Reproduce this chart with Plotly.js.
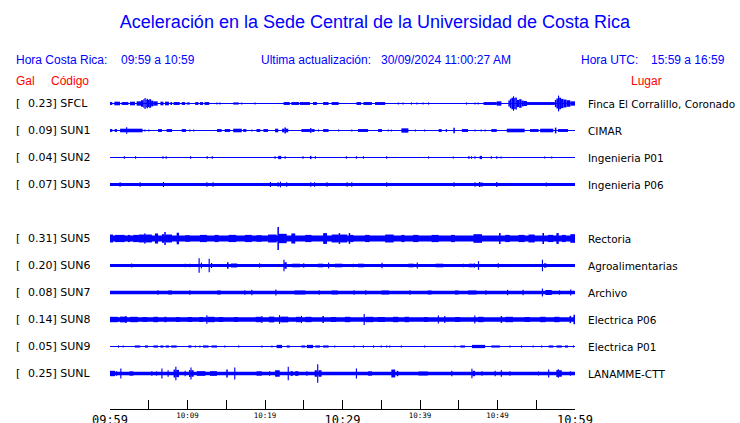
<!DOCTYPE html>
<html><head><meta charset="utf-8">
<script src="https://cdn.plot.ly/plotly-3.0.1.min.js"></script>
<style>html,body{margin:0;padding:0;background:#fff}#chart{width:740px;height:423px}</style>
</head><body><div id="chart"></div>
<script>
// ---- station table ----
const codes  = ['SFCL','SUN1','SUN2','SUN3','SUN5','SUN6','SUN7','SUN8','SUN9','SUNL'];
const peakGal = ['0.23','0.09','0.04','0.07','0.31','0.20','0.08','0.14','0.05','0.25'];
const places = ['Finca El Corralillo, Coronado','CIMAR','Ingenieria P01','Ingenieria P06',
                'Rectoria','Agroalimentarias','Archivo','Electrica P06','Electrica P01','LANAMME-CTT'];
const rowSlot = [0,1,2,3,5,6,7,8,9,10];
// background noise half-amplitude (Gal)
const noiseGal = [0.014,0.014,0.014,0.045,0.08,0.042,0.046,0.06,0.014,0.05];

// ---- envelope segments read from the record: [start min, end min, half-amplitude Gal] ----
// (minutes after 09:59)
const SFCL = [[0,0.3,0.04],[0.56,1.29,0.05],[1.5,2.37,0.04],[2.58,3.23,0.05],[3.44,4.0,0.06],[4.0,4.3,0.09],[4.3,4.45,0.12],[4.45,4.6,0.15],[4.6,4.75,0.11],[4.75,4.9,0.13],[4.9,5.05,0.1],[5.05,5.3,0.12],[5.3,5.59,0.08],[5.59,6.15,0.06],[6.5,6.9,0.05],[7.1,7.6,0.05],[7.8,8.0,0.04],[8.2,9.0,0.04],[9.25,9.7,0.04],[9.9,10.3,0.03],[11.0,11.4,0.04],[11.6,12.0,0.04],[12.2,12.8,0.04],[13.8,13.8,0.03],[14.2,14.2,0.03],[15.9,16.6,0.03],[17.0,17.0,0.03],[18.7,18.7,0.03],[22.4,23.2,0.04],[23.4,24.4,0.04],[24.5,25.8,0.04],[26.2,26.7,0.04],[27.5,28.2,0.04],[28.6,29.5,0.04],[31.8,32.4,0.04],[32.7,33.8,0.04],[34.2,35.5,0.04],[37.2,37.2,0.03],[37.8,37.8,0.03],[38.9,38.9,0.03],[39.6,39.6,0.03],[40.4,40.4,0.03],[41.1,41.1,0.03],[46.0,46.0,0.03],[47.1,47.1,0.03],[47.5,47.5,0.03],[48.2,49.9,0.04],[49.9,50.5,0.06],[51.4,51.6,0.08],[51.6,51.8,0.13],[51.8,52.0,0.16],[52.0,52.15,0.2],[52.15,52.3,0.15],[52.3,52.5,0.17],[52.5,52.8,0.1],[52.8,53.1,0.12],[53.1,53.4,0.08],[53.4,53.8,0.07],[53.8,57.4,0.04],[57.4,57.6,0.1],[57.6,57.8,0.14],[57.8,57.95,0.22],[57.95,58.2,0.16],[58.2,58.5,0.13],[58.5,58.9,0.11],[58.9,59.4,0.09],[59.4,60,0.06]];
const SUN1 = [[0,0.3,0.04],[0.6,0.9,0.04],[1.3,2.1,0.05],[2.1,2.2,0.09],[2.2,4.2,0.05],[4.5,4.5,0.03],[5.0,5.0,0.03],[6.2,6.7,0.04],[7.3,8.0,0.04],[9.25,9.8,0.04],[10.3,10.3,0.03],[10.8,10.8,0.03],[13.8,14.4,0.04],[14.8,15.5,0.04],[15.9,17.0,0.05],[17.2,17.6,0.04],[18.3,18.3,0.03],[18.9,19.4,0.04],[19.8,20.4,0.04],[21.3,21.7,0.05],[22.2,22.5,0.05],[22.5,22.7,0.08],[22.7,23.0,0.05],[24.7,25.8,0.04],[25.8,26.0,0.065],[26.0,26.4,0.04],[26.9,26.9,0.03],[27.5,28.2,0.04],[29.5,29.5,0.03],[31.2,31.2,0.03],[32.0,33.3,0.04],[34.6,35.1,0.04],[35.9,35.9,0.03],[36.3,36.3,0.03],[37.6,38.5,0.06],[39.4,39.4,0.03],[40.6,40.6,0.03],[42.4,42.8,0.04],[43.4,43.4,0.04],[44.3,44.5,0.075],[45.4,46.2,0.04],[47.1,47.1,0.03],[47.9,47.9,0.03],[48.4,48.4,0.03],[49.2,49.9,0.04],[51.2,53.5,0.05],[54.2,55.3,0.04],[55.5,57.2,0.05],[57.4,57.6,0.08],[57.8,59.1,0.04]];
const SUN2 = [[1.85,1.85,0.035],[3.3,3.3,0.035],[6.75,6.9,0.035],[7.2,7.3,0.035],[10.4,10.4,0.035],[12.55,12.55,0.035],[13.2,13.2,0.035],[21.3,21.3,0.035],[21.7,22.1,0.045],[22.6,22.6,0.035],[24.9,24.9,0.035],[25.8,26.0,0.045],[26.5,26.5,0.035],[30.5,30.5,0.035],[31.8,31.8,0.035],[32.7,32.7,0.035],[35.7,35.7,0.035],[41.1,41.1,0.03],[44.3,44.3,0.03],[46.2,46.4,0.035],[46.6,46.7,0.035],[47.1,47.1,0.035],[47.7,48.0,0.045],[49.2,49.2,0.035],[49.9,49.9,0.035],[50.45,50.45,0.03],[56.1,56.1,0.03],[57.0,57.0,0.03]];
const SUN3 = [[1.3,1.3,0.06],[3.9,3.9,0.06],[6.9,6.9,0.07],[12.5,12.5,0.065],[13.3,13.3,0.065],[20.7,20.7,0.07],[21.7,21.7,0.065],[22.0,22.0,0.08],[22.8,22.8,0.065],[25.9,25.9,0.065],[26.4,26.4,0.06],[28.0,28.0,0.06],[30.6,30.6,0.06],[31.2,31.2,0.06],[35.7,35.7,0.065],[44.4,44.4,0.065],[47.1,47.1,0.06],[47.6,47.8,0.07],[48.0,48.0,0.065],[49.9,49.9,0.07],[56.3,56.3,0.055]];
const SUN5 = [[0,0.4,0.11],[0.65,1.9,0.1],[2.3,2.6,0.1],[3.0,3.7,0.1],[3.7,4.4,0.11],[4.4,4.6,0.14],[4.6,5.4,0.11],[5.8,6.2,0.14],[6.7,7.0,0.12],[7.0,7.2,0.18],[7.2,8.0,0.11],[8.6,8.9,0.16],[9.7,10.3,0.09],[11.6,12.5,0.1],[13.5,14.0,0.1],[15.3,16.3,0.1],[17.4,18.3,0.1],[18.9,19.6,0.09],[20.4,21.5,0.11],[21.6,21.8,0.32],[21.8,22.8,0.13],[23.4,23.9,0.14],[25.2,26.0,0.1],[27.5,28.0,0.15],[28.6,29.5,0.11],[29.5,29.7,0.15],[29.7,30.6,0.11],[30.8,31.0,0.15],[31.0,31.4,0.1],[32.9,33.5,0.1],[35.5,36.6,0.11],[37.6,38.0,0.1],[39.1,39.8,0.1],[41.5,42.4,0.1],[44.0,44.5,0.1],[46.9,48.0,0.12],[50.2,50.4,0.15],[51.0,51.6,0.1],[52.7,53.5,0.1],[54.0,54.8,0.11],[55.8,56.0,0.15],[56.5,57.2,0.1],[57.6,57.9,0.15],[58.3,58.8,0.1],[59.4,60,0.12]];
const SUN6 = [[2.8,2.8,0.055],[9.7,9.7,0.05],[10.3,10.3,0.05],[11.45,11.55,0.2],[11.8,11.8,0.08],[12.75,12.85,0.19],[13.1,13.1,0.07],[15.1,15.3,0.09],[15.6,16.4,0.055],[19.3,19.3,0.06],[22.4,22.5,0.16],[22.5,22.8,0.09],[23.5,24.5,0.05],[25.0,25.0,0.06],[26.8,27.5,0.05],[28.2,28.2,0.08],[29.0,30.0,0.05],[31.4,31.4,0.05],[32.0,32.8,0.05],[35.1,35.1,0.075],[38.5,39.2,0.05],[39.65,39.65,0.085],[42.0,43.0,0.05],[45.6,45.6,0.05],[46.3,46.8,0.05],[47.0,47.0,0.065],[47.5,47.6,0.12],[50.1,50.1,0.065],[55.75,55.85,0.16],[56.0,56.3,0.06]];
const SUN7 = [[6.2,6.2,0.065],[7.5,8.0,0.055],[10.3,10.3,0.065],[13.8,14.3,0.055],[17.4,17.4,0.065],[18.3,18.3,0.075],[21.4,21.4,0.085],[23.8,25.2,0.055],[27.0,27.0,0.06],[28.6,29.4,0.055],[31.5,31.5,0.06],[33.0,33.0,0.06],[35.0,36.0,0.055],[38.7,38.7,0.06],[41.0,41.5,0.055],[44.5,45.0,0.055],[46.2,47.3,0.055],[48.5,48.5,0.06],[51.3,51.3,0.075],[53.3,53.3,0.075],[55.75,55.85,0.11],[56.2,57.0,0.07],[58.0,58.0,0.06],[59.4,59.5,0.085]];
const SUN8 = [[0,1.0,0.075],[1.3,2.2,0.08],[2.0,2.1,0.095],[2.6,3.6,0.075],[4.2,4.8,0.07],[5.6,6.2,0.075],[7.0,7.3,0.075],[8.5,9.0,0.07],[10.0,10.6,0.07],[11.5,12.0,0.07],[12.45,12.55,0.12],[12.6,13.5,0.075],[14.0,14.6,0.07],[16.0,16.5,0.07],[18.8,19.5,0.075],[19.55,19.65,0.095],[20.5,21.2,0.08],[21.8,21.95,0.12],[22.0,23.0,0.08],[24.0,24.6,0.075],[24.65,24.75,0.1],[25.2,26.0,0.075],[27.4,27.6,0.095],[28.5,29.2,0.07],[30.3,31.0,0.075],[32.75,32.85,0.15],[33.0,34.0,0.075],[34.5,35.5,0.07],[36.5,37.2,0.075],[38.0,38.6,0.075],[40.5,41.0,0.07],[42.3,42.45,0.11],[43.15,43.25,0.095],[44.5,45.2,0.07],[47.0,47.15,0.11],[47.5,48.2,0.075],[50.4,50.6,0.095],[51.0,52.0,0.075],[53.5,54.2,0.07],[55.5,56.2,0.075],[57.3,58.0,0.075],[59.3,59.5,0.1],[59.8,60,0.13]];
const SUN9 = [[1.1,1.1,0.03],[1.7,1.7,0.03],[3.2,3.9,0.03],[4.5,4.9,0.03],[5.6,6.2,0.03],[6.5,6.9,0.03],[7.2,7.6,0.03],[7.9,8.6,0.03],[10.1,10.5,0.03],[11.0,11.0,0.03],[11.6,11.6,0.03],[12.0,12.7,0.03],[13.1,13.8,0.03],[14.8,14.8,0.03],[16.6,16.6,0.03],[19.6,19.6,0.03],[20.9,20.9,0.03],[21.5,22.2,0.045],[22.8,23.2,0.03],[24.7,25.2,0.03],[25.4,26.2,0.045],[26.5,27.1,0.03],[27.5,28.2,0.03],[29.0,29.0,0.03],[31.5,31.5,0.03],[32.7,32.7,0.03],[34.0,34.0,0.03],[35.0,35.0,0.03],[35.7,35.7,0.03],[36.1,36.1,0.03],[37.6,37.6,0.03],[40.6,40.6,0.03],[44.5,44.5,0.03],[45.2,45.8,0.03],[46.7,48.4,0.045],[49.2,50.3,0.03],[51.6,51.6,0.03],[53.1,53.1,0.03],[54.6,54.6,0.03],[55.7,55.7,0.03],[56.6,57.2,0.03],[57.6,58.3,0.03],[58.7,59.1,0.03],[59.8,59.8,0.03]];
const SUNL = [[0,0.65,0.075],[0.85,0.85,0.06],[1.35,1.45,0.14],[2.5,3.0,0.06],[5.4,5.4,0.06],[6.0,6.0,0.06],[6.65,6.75,0.14],[7.5,7.5,0.09],[8.2,8.45,0.11],[8.45,8.55,0.19],[8.55,8.9,0.1],[9.7,9.7,0.075],[10.2,10.4,0.1],[10.4,10.5,0.17],[10.5,10.8,0.09],[11.2,12.3,0.065],[12.9,13.8,0.065],[15.0,15.2,0.11],[16.05,16.15,0.17],[18.9,19.6,0.06],[20.6,20.6,0.065],[21.3,21.9,0.09],[22.95,23.05,0.19],[23.3,23.6,0.065],[23.9,24.3,0.065],[25.4,25.4,0.06],[26.4,26.7,0.09],[26.75,26.85,0.26],[26.9,27.3,0.09],[31.75,31.85,0.14],[33.3,33.8,0.06],[36.3,36.8,0.11],[37.0,37.2,0.075],[39.8,41.0,0.055],[44.1,44.1,0.075],[46.65,46.75,0.13],[46.8,47.1,0.075],[48.0,48.0,0.06],[49.7,49.7,0.075],[50.5,50.5,0.09],[51.6,51.6,0.06],[55.3,55.3,0.055],[56.6,56.6,0.11],[57.6,57.8,0.1],[57.8,57.9,0.12],[57.9,58.3,0.09],[59.4,59.4,0.06]];
const segments = [SFCL,SUN1,SUN2,SUN3,SUN5,SUN6,SUN7,SUN8,SUN9,SUNL];

// ---- time axis ----
const majorTicks = [0,5,10,15,20,25,30,35,40,45,50,55,60];
const bigLabelVals = [0,30,60];
const bigLabels = ['09:59','10:29','10:59'];
const smallLabelVals = [10,20,40,50];
const smallLabels = ['10:09','10:19','10:39','10:49'];

// ---- layout constants (pixels) ----
const W = 740, H = 423, ML = 110, MR = 165, MT = 90, MB = 14;
const PLOT_W = W - ML - MR, PLOT_H = H - MT - MB;
const PX_PER_GAL = 36, ROW_GAL = 0.75;
const yTop = 13.5 / PX_PER_GAL, yBot = yTop - PLOT_H / PX_PER_GAL;
const MIN_W = 0.15;
const BLUE = '#0000ff', RED = '#ff0000';

const traces = [];
segments.forEach((segs, k) => {
  const c = -ROW_GAL * rowSlot[k];
  const x = [30], w = [60], b = [c - noiseGal[k]], h = [2 * noiseGal[k]];
  segs.forEach(s => {
    x.push((s[0] + s[1]) / 2);
    w.push(Math.max(s[1] - s[0], MIN_W));
    b.push(c - s[2]);
    h.push(2 * s[2]);
  });
  traces.push({type:'bar', x:x, y:h, base:b, width:w, orientation:'v',
    xaxis: k === segments.length - 1 ? 'x2' : 'x',
    marker:{color:BLUE, line:{width:0}}, hoverinfo:'skip', showlegend:false});
});

const PX = p => (p - ML) / PLOT_W;
const PY = p => (MT + PLOT_H - p) / PLOT_H;
const ann = [];
function txt(text, px, py, size, color, family) {
  ann.push({text:text, x:PX(px), y:PY(py), xref:'paper', yref:'paper', xanchor:'left', yanchor:'middle',
    showarrow:false, borderpad:0, font:{size:size, color:color, family:family}});
}
const SANS = 'Liberation Sans, Arial, sans-serif';
const DJ = 'DejaVu Sans, sans-serif';
txt('Hora Costa Rica:', 15, 60.5, 12, BLUE, SANS);
txt('09:59 a 10:59', 119.5, 60.5, 12, BLUE, SANS);
txt('Ultima actualización:', 260, 60.5, 12, BLUE, SANS);
txt('30/09/2024 11:00:27 AM', 379.5, 60.5, 12, BLUE, SANS);
txt('Hora UTC:', 580, 60.5, 12, BLUE, SANS);
txt('15:59 a 16:59', 649.5, 60.5, 12, BLUE, SANS);
txt('Gal', 15, 80.5, 12, RED, SANS);
txt('Código', 50, 80.5, 12, RED, SANS);
txt('Lugar', 630, 80.5, 12, RED, SANS);
codes.forEach((code, k) => {
  const py = 103.5 + 27 * rowSlot[k];
  txt('[', 15, py, 11, '#000', DJ);
  txt(peakGal[k] + '] ' + code, 27.3, py, 11, '#000', DJ);
  txt(places[k], 587, py, 10.5, '#000', DJ);
});

const layout = {
  width: W, height: H,
  margin: {l:ML, r:MR, t:MT, b:MB, pad:0},
  paper_bgcolor:'#fff', plot_bgcolor:'#fff',
  barmode:'overlay',
  title: {text:'Aceleración en la Sede Central de la Universidad de Costa Rica',
    font:{family:SANS, size:18, color:BLUE}, x:375/W, xanchor:'center', xref:'container',
    y:1 - 22/H, yanchor:'middle', yref:'container'},
  xaxis: {range:[0,60], showgrid:false, zeroline:false, showline:true, linecolor:'#000', linewidth:1,
    ticks:'inside', ticklen:9, tickwidth:1, tickcolor:'#000',
    tickmode:'array', tickvals:majorTicks, ticklabelstandoff:-6.5,
    ticktext: majorTicks.map(v => { const i = bigLabelVals.indexOf(v); return i >= 0 ? bigLabels[i] : ''; }),
    tickfont:{family:'DejaVu Sans Mono, monospace', size:12, color:'#000'}, fixedrange:true},
  xaxis2: {range:[0,60], overlaying:'x', anchor:'y', side:'bottom', showgrid:false, zeroline:false,
    showline:false, ticks:'', tickmode:'array', tickvals:smallLabelVals, ticktext:smallLabels,
    ticklabelstandoff:0,
    tickfont:{family:'DejaVu Sans Mono, monospace', size:7.5, color:'#000'}, fixedrange:true},
  yaxis: {range:[yBot, yTop], visible:false, fixedrange:true},
  annotations: ann
};
Plotly.newPlot('chart', traces, layout, {displayModeBar:false, staticPlot:true});
</script></body></html>
